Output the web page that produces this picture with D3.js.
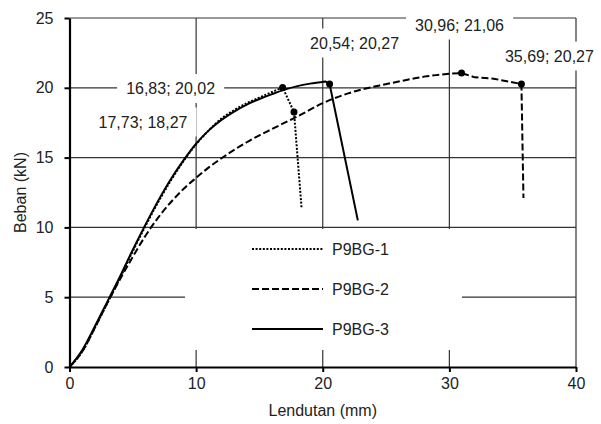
<!DOCTYPE html>
<html>
<head>
<meta charset="utf-8">
<script src="https://cdn.jsdelivr.net/npm/d3@7"></script>
<style>
  body { margin: 0; background: #fff; }
  svg text { font-family: "Liberation Sans", Arial, sans-serif; fill: #222; }
</style>
</head>
<body>
<div id="chart"></div>
<script>
// tick values
var xTicks = [0, 10, 20, 30, 40];
var yTicks = [0, 5, 10, 15, 20, 25];

// series: [lendutan (mm), beban (kN)]
var seriesNames = ["P9BG-1", "P9BG-2", "P9BG-3"];
var p9bg1 = [[0,0],[1,1.1],[2,2.8],[3,4.6],[4,6.4],[5,8.3],[6,10.1],[7,11.8],[8,13.35],[9,14.75],[10,15.95],
  [11,16.95],[12,17.8],[13,18.4],[14,18.9],[15,19.3],[16,19.7],[16.83,20.02],[17.73,18.27],[18.33,11.35]];
var p9bg2 = [[0,0],[1,1.1],[2,2.8],[3,4.6],[4,6.3],[5,7.9],[6,9.4],[7,10.7],[8,11.8],[9,12.75],[10,13.55],
  [11,14.3],[12,14.95],[13,15.55],[14,16.1],[15,16.6],[16,17.05],[17,17.5],[18,17.95],[20,18.9],[22,19.6],
  [24.5,20.17],[26,20.45],[28,20.8],[30,21.0],[30.96,21.06],[32,20.75],[33.5,20.65],[35.69,20.27],[35.85,12.1]];
var p9bg3 = [[0,0],[1,1.2],[2,2.9],[3,4.7],[4,6.5],[5,8.4],[6,10.2],[7,11.9],[8,13.45],[9,14.8],[10,16.0],
  [11,16.95],[12,17.7],[13,18.3],[14,18.8],[15,19.2],[16,19.55],[17,19.87],[18,20.12],[19,20.3],
  [20.2,20.46],[20.54,20.27],[22.77,10.5]];

// labelled points
var labelX = [16.83, 17.73, 20.54, 30.96, 35.69];
var labelY = [20.02, 18.27, 20.27, 21.06, 20.27];

var svgWidth = 601, svgHeight = 424;
var margin = { top: 18, right: 25, bottom: 57, left: 69.5 };
var width = svgWidth - margin.left - margin.right;
var height = svgHeight - margin.top - margin.bottom;

var svg = d3.select("#chart").append("svg")
  .attr("width", svgWidth)
  .attr("height", svgHeight);

var g = svg.append("g")
  .attr("transform", "translate(" + margin.left + "," + margin.top + ")");

var x = d3.scaleLinear().domain([0, 40]).range([0, width]);
var y = d3.scaleLinear().domain([0, 25]).range([height, 0]);

// gridlines
g.selectAll(".hgrid").data(yTicks.slice(1)).enter().append("line")
  .attr("x1", 0).attr("x2", width)
  .attr("y1", function(d) { return y(d); }).attr("y2", function(d) { return y(d); })
  .attr("stroke", "#333").attr("stroke-width", 1.2);
g.selectAll(".vgrid").data(xTicks.slice(1)).enter().append("line")
  .attr("y1", 0).attr("y2", height)
  .attr("x1", function(d) { return x(d); }).attr("x2", function(d) { return x(d); })
  .attr("stroke", "#333").attr("stroke-width", 1.2);

// data labels (white boxes hide gridlines)
var labelOffset = [[-112, 1], [-151, 10], [25, -41], [-2, -48], [28, -28]];
function fmt(v) { return d3.format(".2f")(v).replace(".", ","); }

var labels = g.selectAll(".dlabel").data(labelX).enter().append("g")
  .attr("class", "dlabel")
  .attr("transform", function(d, i) {
    return "translate(" + (x(d) + labelOffset[i][0]) + "," + (y(labelY[i]) + labelOffset[i][1]) + ")";
  });
labels.append("rect").attr("fill", "#fff");
labels.append("text")
  .attr("text-anchor", "middle")
  .attr("dy", "0.35em")
  .style("font-size", "16px")
  .text(function(d, i) { return fmt(d) + "; " + fmt(labelY[i]); });
labels.each(function() {
  var t = d3.select(this).select("text").node().getBBox();
  d3.select(this).select("rect")
    .attr("x", t.x - 9).attr("y", -14.5)
    .attr("width", t.width + 18).attr("height", 29);
});

// legend box
var legend = g.append("g").attr("transform", "translate(" + (185 - margin.left) + "," + (229 - margin.top) + ")");
legend.append("rect").attr("width", 277).attr("height", 121).attr("fill", "#fff");

var dashes = ["2,1.6", "7,3", null];
var smooth = d3.line()
  .x(function(d) { return x(d[0]); })
  .y(function(d) { return y(d[1]); })
  .curve(d3.curveMonotoneX);
var straight = d3.line()
  .x(function(d) { return x(d[0]); })
  .y(function(d) { return y(d[1]); });

// rising branch smooth, post-peak branch straight
[p9bg1, p9bg2, p9bg3].forEach(function(s, i) {
  var peak = d3.maxIndex(s, function(d) { return d[1]; });
  g.append("path")
    .attr("d", smooth(s.slice(0, peak + 1)) + straight(s.slice(peak)).replace(/^M[^L]*/, ""))
    .attr("fill", "none")
    .attr("stroke", "#000")
    .attr("stroke-width", 2)
    .attr("stroke-linejoin", "round")
    .attr("stroke-dasharray", dashes[i]);
});

// markers
g.selectAll(".marker").data(labelX).enter().append("circle")
  .attr("cx", function(d) { return x(d); })
  .attr("cy", function(d, i) { return y(labelY[i]); })
  .attr("r", 3.5)
  .attr("fill", "#000");

// legend entries
var items = legend.selectAll(".item").data(seriesNames).enter().append("g")
  .attr("transform", function(d, i) { return "translate(0," + (20 + i * 40) + ")"; });
items.append("line")
  .attr("x1", 67).attr("x2", 138)
  .attr("stroke", "#000").attr("stroke-width", 2)
  .attr("stroke-dasharray", function(d, i) { return dashes[i]; });
items.append("text")
  .attr("x", 147).attr("dy", "0.35em")
  .style("font-size", "16px")
  .text(function(d) { return d; });

// axes
var xAxis = g.append("g")
  .attr("transform", "translate(0," + height + ")")
  .call(d3.axisBottom(x).tickValues(xTicks).tickSize(5).tickPadding(6).tickSizeOuter(0));
var yAxis = g.append("g")
  .call(d3.axisLeft(y).tickValues(yTicks).tickSize(5).tickPadding(11).tickSizeOuter(0));
[xAxis, yAxis].forEach(function(a) {
  a.select(".domain").attr("stroke", "#000").attr("stroke-width", 2.2);
  a.selectAll(".tick line").attr("stroke", "#000").attr("stroke-width", 2);
  a.selectAll(".tick text").style("font-size", "16px").style("font-family", "Liberation Sans, Arial, sans-serif").attr("fill", "#222");
});

// axis titles
g.append("text")
  .attr("x", x(20)).attr("y", height + 49)
  .attr("text-anchor", "middle")
  .style("font-size", "16px")
  .text("Lendutan (mm)");
g.append("text")
  .attr("transform", "translate(" + (20 - margin.left) + "," + (height / 2) + ") rotate(-90)")
  .attr("text-anchor", "middle")
  .attr("dy", "0.35em")
  .style("font-size", "16px")
  .text("Beban (kN)");
</script>
</body>
</html>
